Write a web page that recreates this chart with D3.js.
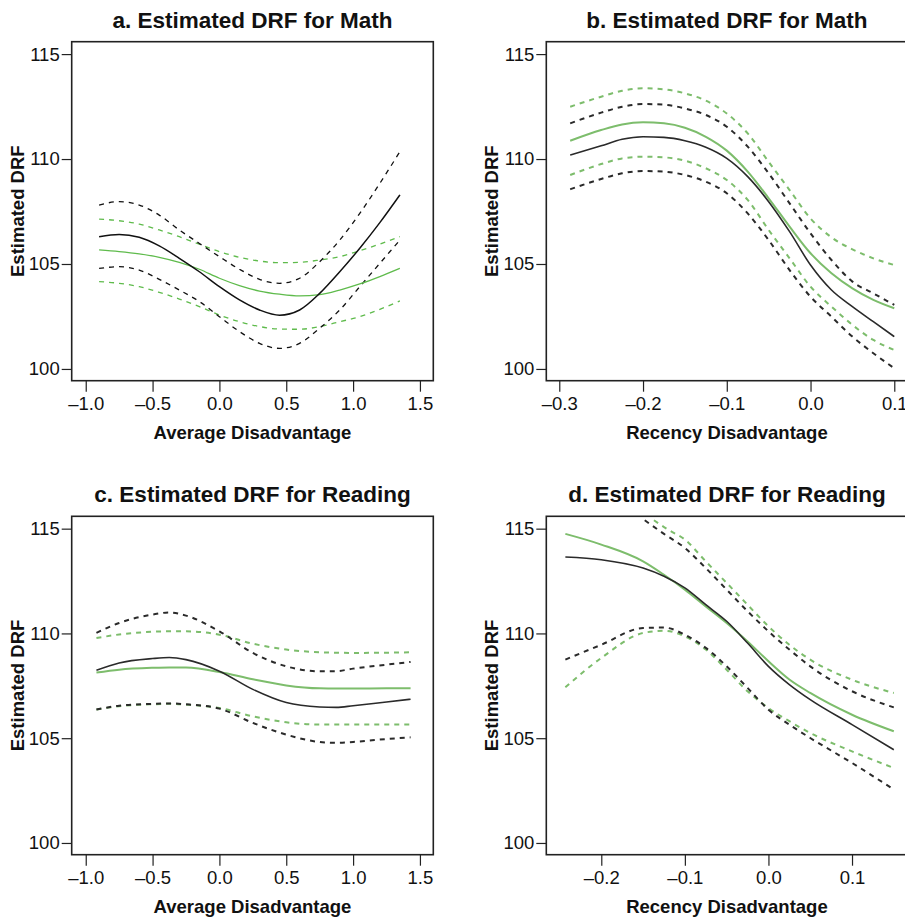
<!DOCTYPE html>
<html>
<head>
<meta charset="utf-8">
<script src="https://cdn.jsdelivr.net/npm/d3@7"></script>
<style>
  body { margin: 0; background: #fff; }
  svg { display: block; }
  text { font-family: "Liberation Sans", Arial, Helvetica, sans-serif; fill: #111; }
</style>
</head>
<body>
<svg width="905" height="917"></svg>
<script>
// panel a: math, average disadvantage
var aX       = [-0.9, -0.75, -0.6, -0.45, -0.3, -0.15, 0, 0.15, 0.3, 0.45, 0.6, 0.75, 0.9, 1.05, 1.2, 1.35];
var aBlack   = [106.30, 106.41, 106.27, 105.86, 105.27, 104.63, 103.92, 103.29, 102.81, 102.56, 102.81, 103.60, 104.63, 105.75, 106.97, 108.29];
var aBlackHi = [107.81, 107.97, 107.81, 107.33, 106.62, 105.98, 105.35, 104.75, 104.27, 104.08, 104.32, 105.11, 106.14, 107.41, 108.84, 110.35];
var aBlackLo = [104.79, 104.87, 104.71, 104.27, 103.76, 103.21, 102.49, 101.78, 101.22, 100.98, 101.22, 101.94, 102.81, 103.92, 105.03, 106.14];
var aGreen   = [105.67, 105.59, 105.48, 105.32, 105.08, 104.75, 104.32, 103.97, 103.71, 103.56, 103.48, 103.54, 103.76, 104.05, 104.40, 104.79];
var aGreenHi = [107.14, 107.06, 106.90, 106.62, 106.30, 105.94, 105.59, 105.32, 105.14, 105.06, 105.08, 105.19, 105.35, 105.63, 105.95, 106.30];
var aGreenLo = [104.16, 104.08, 103.92, 103.65, 103.33, 102.97, 102.57, 102.25, 102.02, 101.90, 101.89, 102.02, 102.25, 102.49, 102.84, 103.24];

// panel b: math, recency disadvantage
var bX       = [-0.287, -0.25, -0.225, -0.2, -0.175, -0.15, -0.125, -0.1, -0.075, -0.05, -0.025, 0, 0.025, 0.05, 0.075, 0.1];
var bBlack   = [110.19, 110.63, 110.94, 111.06, 111.03, 110.87, 110.56, 110.03, 109.16, 107.97, 106.54, 104.95, 103.76, 102.97, 102.25, 101.54];
var bBlackHi = [111.70, 112.21, 112.49, 112.62, 112.59, 112.41, 112.10, 111.54, 110.59, 109.32, 107.89, 106.46, 105.19, 104.16, 103.60, 103.05];
var bBlackLo = [108.56, 109.05, 109.32, 109.43, 109.40, 109.24, 108.92, 108.37, 107.41, 106.14, 104.71, 103.44, 102.49, 101.54, 100.75, 100.03];
var bGreen   = [110.87, 111.38, 111.65, 111.75, 111.70, 111.49, 111.06, 110.40, 109.40, 108.13, 106.78, 105.51, 104.56, 103.84, 103.29, 102.89];
var bGreenHi = [112.49, 112.97, 113.25, 113.37, 113.32, 113.13, 112.78, 112.17, 111.22, 109.87, 108.52, 107.17, 106.27, 105.70, 105.27, 104.95];
var bGreenLo = [109.24, 109.76, 110.03, 110.11, 110.08, 109.92, 109.56, 109.00, 108.05, 106.62, 105.27, 103.92, 102.97, 102.10, 101.38, 100.90];

// panel c: reading, average disadvantage
var cX       = [-0.92, -0.75, -0.5, -0.375, -0.25, 0, 0.25, 0.5, 0.75, 0.875, 1.0, 1.25, 1.43];
var cBlack   = [108.24, 108.59, 108.80, 108.85, 108.75, 108.20, 107.33, 106.70, 106.49, 106.47, 106.55, 106.73, 106.86];
var cBlackHi = [110.03, 110.50, 110.90, 111.00, 110.85, 110.10, 109.07, 108.43, 108.19, 108.20, 108.32, 108.51, 108.64];
var cBlackLo = [106.37, 106.55, 106.64, 106.66, 106.62, 106.41, 105.73, 105.17, 104.82, 104.78, 104.82, 104.96, 105.04];
var cGreen   = [108.13, 108.27, 108.36, 108.38, 108.37, 108.16, 107.81, 107.52, 107.38, 107.37, 107.37, 107.38, 107.38];
var cGreenHi = [109.78, 109.95, 110.08, 110.10, 110.10, 109.94, 109.51, 109.23, 109.10, 109.08, 109.07, 109.08, 109.10];
var cGreenLo = [106.37, 106.53, 106.62, 106.64, 106.60, 106.44, 106.04, 105.76, 105.65, 105.65, 105.65, 105.65, 105.65];

// panel d: reading, recency disadvantage
var dX       = [-0.243, -0.2, -0.15, -0.125, -0.1, -0.075, -0.05, -0.025, 0, 0.025, 0.05, 0.1, 0.15];
var dBlack   = [113.65, 113.52, 113.12, 112.73, 112.17, 111.37, 110.58, 109.54, 108.43, 107.56, 106.84, 105.65, 104.45];
var dBlackLo = [108.75, 109.46, 110.26, 110.28, 109.94, 109.31, 108.43, 107.40, 106.36, 105.65, 105.01, 103.82, 102.55];
var dGreen   = [114.75, 114.24, 113.44, 112.80, 112.09, 111.29, 110.50, 109.62, 108.67, 107.80, 107.16, 106.12, 105.33];
var dGreenLo = [107.43, 108.83, 110.02, 110.13, 109.86, 109.23, 108.27, 107.24, 106.44, 105.81, 105.25, 104.37, 103.58];
// upper bands start inside the panel
var dBlackHiX = [-0.148, -0.125, -0.1, -0.075, -0.05, -0.025, 0, 0.025, 0.05, 0.1, 0.15];
var dBlackHi  = [115.40, 114.75, 114.08, 113.12, 112.09, 111.06, 110.10, 109.23, 108.43, 107.24, 106.47];
var dGreenHiX = [-0.137, -0.12, -0.1, -0.075, -0.05, -0.025, 0, 0.025, 0.05, 0.1, 0.15];
var dGreenHi  = [115.40, 114.95, 114.48, 113.44, 112.41, 111.37, 110.34, 109.46, 108.75, 107.79, 107.16];

var yTicks    = [100, 105, 110, 115];
var avgTicks  = [-1.0, -0.5, 0.0, 0.5, 1.0, 1.5];
var recTicksB = [-0.3, -0.2, -0.1, 0.0, 0.1];
var recTicksD = [-0.2, -0.1, 0.0, 0.1];

var svg = d3.select("svg");

function panel(opt) {
  var g = svg.append("g");
  var x = d3.scaleLinear().domain(opt.xDomain).range([opt.left, opt.right]);
  var y = d3.scaleLinear().domain([99.44, 115.59]).range([opt.bottom, opt.top]);

  var clipId = "clip" + opt.id;
  g.append("clipPath").attr("id", clipId)
    .append("rect")
    .attr("x", opt.left).attr("y", opt.top)
    .attr("width", opt.right - opt.left).attr("height", opt.bottom - opt.top);

  var line = d3.line()
    .x(d => x(d[0]))
    .y(d => y(d[1]))
    .curve(d3.curveMonotoneX);

  var lines = g.append("g").attr("clip-path", "url(#" + clipId + ")");
  opt.series.forEach(function(s) {
    lines.append("path")
      .attr("d", line(d3.zip(s.x, s.y)))
      .attr("fill", "none")
      .attr("stroke", s.color)
      .attr("stroke-width", s.width)
      .attr("stroke-dasharray", s.dash ? s.dash : null);
  });

  // box
  g.append("rect")
    .attr("x", opt.left).attr("y", opt.top)
    .attr("width", opt.right - opt.left).attr("height", opt.bottom - opt.top)
    .attr("fill", "none").attr("stroke", "#222").attr("stroke-width", 1.6);

  // y axis
  var yAxis = d3.axisLeft(y).tickValues(yTicks).tickSize(10).tickPadding(2).tickFormat(d3.format("d"));
  var ya = g.append("g").attr("transform", "translate(" + opt.left + ",0)").call(yAxis);
  ya.select(".domain").remove();
  ya.selectAll("line").attr("stroke", "#222").attr("stroke-width", 1.2);
  ya.selectAll("text").attr("font-size", 18.5).attr("fill", "#111")
    .attr("font-family", "'Liberation Sans', Arial, sans-serif");

  // x axis
  var xAxis = d3.axisBottom(x).tickValues(opt.xTicks).tickSize(11).tickPadding(5)
    .tickFormat(d => d3.format(".1f")(d).replace("-", "\u2013").replace("\u2212", "\u2013"));
  var xa = g.append("g").attr("transform", "translate(0," + opt.bottom + ")").call(xAxis);
  xa.select(".domain").remove();
  xa.selectAll("line").attr("stroke", "#222").attr("stroke-width", 1.2);
  xa.selectAll("text").attr("font-size", 18.5).attr("fill", "#111")
    .attr("font-family", "'Liberation Sans', Arial, sans-serif");

  var cx = (opt.left + opt.right) / 2;
  g.append("text")
    .attr("x", cx).attr("y", opt.top - 14)
    .attr("text-anchor", "middle")
    .attr("font-size", 22.5).attr("font-weight", "bold")
    .text(opt.title);

  g.append("text")
    .attr("x", cx).attr("y", opt.bottom + 58)
    .attr("text-anchor", "middle")
    .attr("font-size", 18.5).attr("font-weight", "bold")
    .text(opt.xLabel);

  g.append("text")
    .attr("transform", "translate(" + (opt.left - 48) + "," + ((opt.top + opt.bottom) / 2) + ") rotate(-90)")
    .attr("text-anchor", "middle")
    .attr("font-size", 18.5).attr("font-weight", "bold")
    .text("Estimated DRF");
}

var green1 = "#5fbb4c";
var green2 = "#7dbd6c";
var black = "#111";
var black2 = "#2a2a2a";

panel({
  id: "a", left: 71.7, right: 433.3, top: 41.7, bottom: 380.7,
  xDomain: [-1.105, 1.6], xTicks: avgTicks,
  title: "a. Estimated DRF for Math", xLabel: "Average Disadvantage",
  series: [
    { x: aX, y: aGreenHi, color: green1, width: 1.3, dash: "5,5" },
    { x: aX, y: aGreenLo, color: green1, width: 1.3, dash: "5,5" },
    { x: aX, y: aBlackHi, color: black, width: 1.3, dash: "5,5" },
    { x: aX, y: aBlackLo, color: black, width: 1.3, dash: "5,5" },
    { x: aX, y: aGreen, color: green1, width: 1.3 },
    { x: aX, y: aBlack, color: black, width: 1.5 }
  ]
});

panel({
  id: "b", left: 546.3, right: 907.6, top: 41.7, bottom: 380.7,
  xDomain: [-0.3155, 0.1159], xTicks: recTicksB,
  title: "b. Estimated DRF for Math", xLabel: "Recency Disadvantage",
  series: [
    { x: bX, y: bGreenHi, color: green2, width: 2, dash: "5,5" },
    { x: bX, y: bGreenLo, color: green2, width: 2, dash: "5,5" },
    { x: bX, y: bBlackHi, color: black2, width: 2, dash: "5,5" },
    { x: bX, y: bBlackLo, color: black2, width: 2, dash: "5,5" },
    { x: bX, y: bGreen, color: green2, width: 2 },
    { x: bX, y: bBlack, color: black2, width: 1.6 }
  ]
});

panel({
  id: "c", left: 71.7, right: 433.3, top: 516.3, bottom: 854.7,
  xDomain: [-1.105, 1.6], xTicks: avgTicks,
  title: "c. Estimated DRF for Reading", xLabel: "Average Disadvantage",
  series: [
    { x: cX, y: cGreenHi, color: green2, width: 2, dash: "5,5" },
    { x: cX, y: cGreenLo, color: green2, width: 2, dash: "5,5" },
    { x: cX, y: cBlackHi, color: black2, width: 2, dash: "5,5" },
    { x: cX, y: cBlackLo, color: black2, width: 2, dash: "5,5" },
    { x: cX, y: cGreen, color: green2, width: 2 },
    { x: cX, y: cBlack, color: black2, width: 1.6 }
  ]
});

panel({
  id: "d", left: 546.3, right: 907.6, top: 516.3, bottom: 854.7,
  xDomain: [-0.2658, 0.1665], xTicks: recTicksD,
  title: "d. Estimated DRF for Reading", xLabel: "Recency Disadvantage",
  series: [
    { x: dGreenHiX, y: dGreenHi, color: green2, width: 2, dash: "5,5" },
    { x: dX, y: dGreenLo, color: green2, width: 2, dash: "5,5" },
    { x: dBlackHiX, y: dBlackHi, color: black2, width: 2, dash: "5,5" },
    { x: dX, y: dBlackLo, color: black2, width: 2, dash: "5,5" },
    { x: dX, y: dGreen, color: green2, width: 2 },
    { x: dX, y: dBlack, color: black2, width: 1.6 }
  ]
});
</script>
</body>
</html>
